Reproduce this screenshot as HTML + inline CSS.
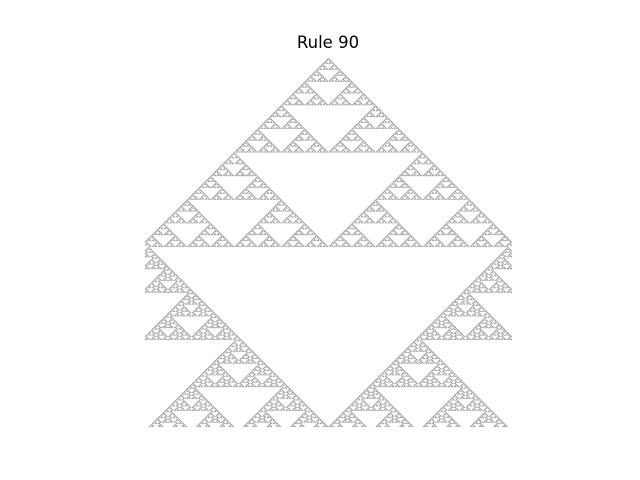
<!DOCTYPE html>
<html><head><meta charset="utf-8"><style>
html,body{margin:0;padding:0;background:#fff;width:640px;height:480px;overflow:hidden}
#title{position:absolute;left:0;width:656px;top:33px;line-height:20px;text-align:center;font-family:"DejaVu Sans","Liberation Sans",sans-serif;font-size:16.5px;color:#000}
canvas{position:absolute;left:144px;top:58px;width:368px;height:369px}
</style></head><body>
<div id="title">Rule 90</div>
<canvas id="ca" width="500" height="500"></canvas>
<script>
const ruleNumber = [90];
const cellCount = [500];
const stepCount = [500];
const N = cellCount[0], T = stepCount[0], R = ruleNumber[0];
const cv = document.getElementById('ca');
const ctx = cv.getContext('2d');
let row = new Array(N).fill(0); row[Math.floor(N/2)] = 1;
const img = ctx.createImageData(N,T);
for (let t=0;t<T;t++){
  for (let i=0;i<N;i++){
    const v = row[i] ? 90 : 255;
    const k=(t*N+i)*4; img.data[k]=v;img.data[k+1]=v;img.data[k+2]=v;img.data[k+3]=255;
  }
  const nr = new Array(N);
  for (let i=0;i<N;i++){
    const l=row[(i-1+N)%N], c=row[i], r=row[(i+1)%N];
    nr[i] = (R >> (l*4+c*2+r)) & 1;
  }
  row = nr;
}
ctx.putImageData(img,0,0);
</script>
</body></html>
